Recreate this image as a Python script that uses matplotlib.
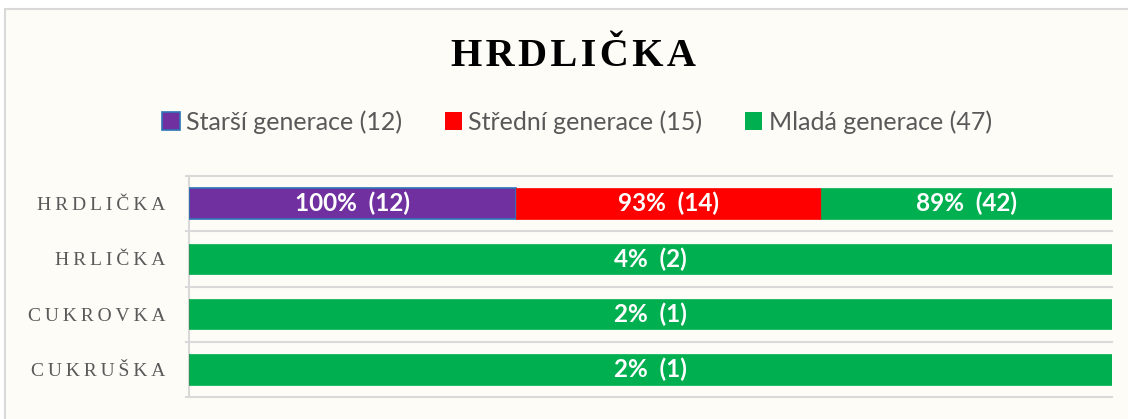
import matplotlib
matplotlib.use("Agg")
import matplotlib.pyplot as plt
from matplotlib.patches import Patch, Rectangle

# ---- data ----
categories = ["HRDLIČKA", "HRLIČKA", "CUKROVKA", "CUKRUŠKA"]
series_names = ["Starší generace (12)", "Střední generace (15)", "Mladá generace (47)"]
pct_starsi = [100, 0, 0, 0]
pct_stredni = [93, 0, 0, 0]
pct_mlada = [89, 4, 2, 2]
cnt_starsi = [12, 0, 0, 0]
cnt_stredni = [14, 0, 0, 0]
cnt_mlada = [42, 2, 1, 1]
title = "HRDLIČKA"

colors = ["#7030A0", "#FF0000", "#00B050"]
edges = ["#2E75B6", "#FF0000", "#00B050"]
BG = "#FDFCF7"
GRID = "#D9D9D9"
TXT = "#595959"

W, H = 1128, 419
fig = plt.figure(figsize=(W / 100, H / 100), dpi=100, facecolor="white")

# outer chart border (off-white area)
fig.patches.append(Rectangle((5 / W, -0.2), 1.5, 1.2 - 9 / H, transform=fig.transFigure,
                             facecolor=BG, edgecolor=GRID, linewidth=1.5, zorder=-5))

ax = fig.add_axes([189 / W, 1 - 397 / H, (1112 - 189) / W, (397 - 176) / H])
ax.set_facecolor("none")
ax.set_zorder(2)

pcts = [pct_starsi, pct_stredni, pct_mlada]
cnts = [cnt_starsi, cnt_stredni, cnt_mlada]
row_tot = [sum(p[i] for p in pcts) for i in range(len(categories))]
ypos = list(range(len(categories)))
left = [0.0] * len(categories)
for s in range(3):
    widths = [pcts[s][i] / row_tot[i] for i in range(len(categories))]
    ax.barh(ypos, widths, left=left, height=0.55, color=colors[s],
            edgecolor=edges[s], linewidth=1.2 if s == 0 else 0.5, zorder=3)
    for i in range(len(categories)):
        if pcts[s][i] > 0:
            ax.text(left[i] + widths[i] / 2, ypos[i], f"{pcts[s][i]}%  ({cnts[s][i]})",
                    ha="center", va="center", color="white", fontsize=17.5,
                    fontweight="bold", family=["Lato", "DejaVu Sans"], zorder=4)
    left = [left[i] + widths[i] for i in range(len(categories))]

ax.set_xlim(0, 1)
ax.set_ylim(len(categories) - 0.5, -0.5)
for b in [k - 0.5 for k in range(len(categories) + 1)]:
    ax.axhline(b, xmin=-0.003, xmax=1, color=GRID, linewidth=1.5, zorder=1, clip_on=False)
for sp in ["top", "right", "bottom"]:
    ax.spines[sp].set_visible(False)
ax.spines["left"].set_color(GRID)
ax.spines["left"].set_linewidth(1.5)
ax.set_xticks([])
ax.set_yticks(ypos)
spaced = ["\u2009".join(c) for c in categories]
ax.set_yticklabels(spaced, family=["Liberation Serif", "DejaVu Serif"], fontsize=14, color=TXT)
ax.tick_params(axis="y", length=0, pad=17)

fig.text(573 / W, 1 - 57 / H, "\u200a".join(title), ha="center", va="center",
         fontsize=29, fontweight="bold", family=["Liberation Serif", "DejaVu Serif"],
         color="black")

handles = [Patch(facecolor=colors[s], edgecolor=edges[s], linewidth=1.2 if s == 0 else 0)
           for s in range(3)]
leg = fig.legend(handles, series_names, loc="center", ncol=3,
                 bbox_to_anchor=(577 / W, 1 - 122 / H), frameon=False,
                 prop={"family": ["Lato", "DejaVu Sans"], "size": 18},
                 handlelength=0.7, handleheight=0.7, handletextpad=0.25,
                 columnspacing=1.7, borderaxespad=0)
for t in leg.get_texts():
    t.set_color(TXT)

fig.savefig("out.png", dpi=100, facecolor="white")
